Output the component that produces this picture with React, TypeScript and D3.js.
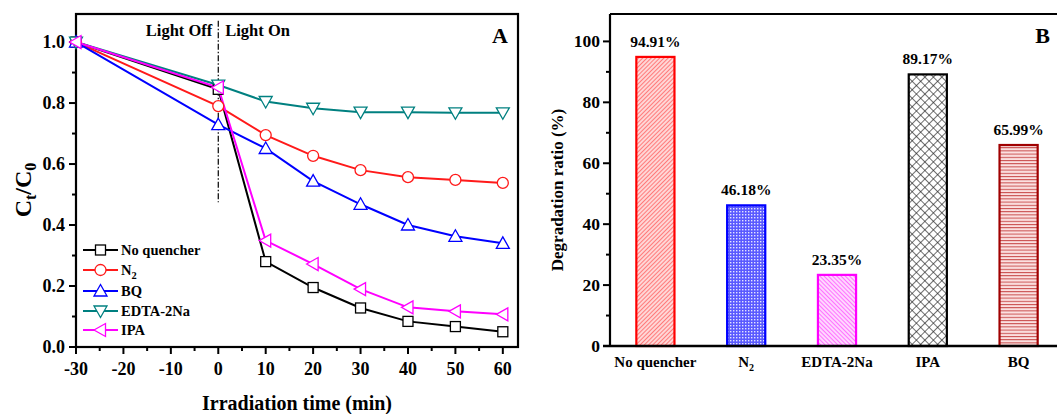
import React from "react";
import * as d3 from "d3";

const times = [-30, 0, 10, 20, 30, 40, 50, 60];
const seriesNames = ["No quencher", "N2", "BQ", "EDTA-2Na", "IPA"];
const noQuencher = [1.0, 0.845, 0.28, 0.195, 0.128, 0.084, 0.067, 0.05];
const n2 = [1.0, 0.79, 0.695, 0.627, 0.58, 0.557, 0.548, 0.538];
const bq = [1.0, 0.729, 0.651, 0.544, 0.468, 0.4, 0.363, 0.34];
const edta = [1.0, 0.859, 0.805, 0.783, 0.77, 0.77, 0.768, 0.768];
const ipa = [1.0, 0.851, 0.349, 0.272, 0.19, 0.13, 0.117, 0.107];
const xTicksA = [-30, -20, -10, 0, 10, 20, 30, 40, 50, 60];
const yTicksA = [0, 0.2, 0.4, 0.6, 0.8, 1.0];

const barCats = ["No quencher", "N2", "EDTA-2Na", "IPA", "BQ"];
const barValues = [94.91, 46.18, 23.35, 89.17, 65.99];
const yTicksB = [0, 20, 40, 60, 80, 100];

const FONT = "'Liberation Serif', 'DejaVu Serif', serif";
const colorsA = ["#000000", "#ff1a1a", "#0000ff", "#008080", "#ff00ff"];
const markersA = ["square", "circle", "up", "down", "left"];
const barStroke = ["#ff0000", "#0000ff", "#ff00ff", "#000000", "#a00000"];

function Marker({ type, x, y, color }: { type: string; x: number; y: number; color: string }) {
  const s = 5.5;
  const common = { fill: "white", stroke: color, strokeWidth: 1.3 };
  if (type === "square") return <rect x={x - s + 0.5} y={y - s + 0.5} width={2 * s - 1} height={2 * s - 1} {...common} />;
  if (type === "circle") return <circle cx={x} cy={y} r={s} {...common} />;
  let pts: number[][] = [];
  if (type === "up") pts = [[x, y - s - 1], [x + s + 1, y + s - 0.5], [x - s - 1, y + s - 0.5]];
  if (type === "down") pts = [[x, y + s + 1], [x + s + 1, y - s + 0.5], [x - s - 1, y - s + 0.5]];
  if (type === "left") pts = [[x - s - 1, y], [x + s - 0.5, y - s - 1], [x + s - 0.5, y + s + 1]];
  return <polygon points={pts.map((p) => p.join(",")).join(" ")} {...common} />;
}

function Label({ name, x, y, size }: { name: string; x: number; y: number; size: number }) {
  if (name === "N2") {
    return (
      <text x={x} y={y} fontSize={size} fontWeight="bold" fontFamily={FONT}>
        N<tspan fontSize={size * 0.72} dy={size * 0.3}>2</tspan>
      </text>
    );
  }
  return (
    <text x={x} y={y} fontSize={size} fontWeight="bold" fontFamily={FONT}>
      {name}
    </text>
  );
}

export default function App() {
  const W = 1057, H = 414;
  // Panel A
  const aL = 76, aR = 518, aT = 14, aB = 347;
  const xA = d3.scaleLinear().domain([-30, 63.2]).range([aL, aR]);
  const yA = d3.scaleLinear().domain([0, 1.092]).range([aB, aT]);
  const allSeries = [noQuencher, n2, bq, edta, ipa];
  const line = d3.line<number>().x((_, i) => xA(times[i])).y((d) => yA(d));
  const minorX = d3.range(-25, 61, 10);
  const minorY = d3.range(0.1, 1.01, 0.2);

  // Panel B
  const bL = 610, bT = 14, bB = 346;
  const xB = d3.scaleBand<string>().domain(barCats).range([610, 1064]).paddingInner(0.58).paddingOuter(0.29);
  const yB = d3.scaleLinear().domain([0, 109]).range([bB, bT]);
  const minorB = d3.range(10, 101, 20);
  const patIds = ["patRed", "patBlue", "patMag", "patBlack", "patBQ"];

  const legendY = [250, 270, 291, 311, 330];

  return (
    <svg width={W} height={H} style={{ position: "absolute", left: 0, top: 0, background: "white" }}>
      <defs>
        <pattern id="patRed" patternUnits="userSpaceOnUse" width="3" height="3" patternTransform="rotate(45)">
          <rect width="3" height="3" fill="#ffd6d6" />
          <line x1="0" y1="0" x2="0" y2="3" stroke="#ff4a4a" strokeWidth="1.3" />
        </pattern>
        <pattern id="patMag" patternUnits="userSpaceOnUse" width="3" height="3" patternTransform="rotate(-45)">
          <rect width="3" height="3" fill="#ffd6ff" />
          <line x1="0" y1="0" x2="0" y2="3" stroke="#ff3cff" strokeWidth="1.3" />
        </pattern>
        <pattern id="patBlue" patternUnits="userSpaceOnUse" width="3" height="3">
          <rect width="3" height="3" fill="#5a5aff" />
          <rect x="1" y="1" width="1.4" height="1.4" fill="#e4e4ff" />
        </pattern>
        <pattern id="patBlack" patternUnits="userSpaceOnUse" width="6" height="6" patternTransform="rotate(45)">
          <rect width="6" height="6" fill="white" />
          <line x1="0" y1="0" x2="0" y2="6" stroke="#222" strokeWidth="1.3" />
          <line x1="0" y1="0" x2="6" y2="0" stroke="#222" strokeWidth="1.3" />
        </pattern>
        <pattern id="patBQ" patternUnits="userSpaceOnUse" width="4" height="3.2">
          <rect width="4" height="3.2" fill="#fbe0e0" />
          <line x1="0" y1="0.5" x2="4" y2="0.5" stroke="#c84a4a" strokeWidth="1" />
        </pattern>
      </defs>

      {/* ===== Panel A ===== */}
      <rect x={aL} y={aT} width={aR - aL} height={aB - aT} fill="none" stroke="#000" strokeWidth={2.2} />
      {xTicksA.map((t) => (
        <g key={"xt" + t}>
          <line x1={xA(t)} x2={xA(t)} y1={aB} y2={aB + 7} stroke="#000" strokeWidth={2} />
          <text x={xA(t)} y={375} textAnchor="middle" fontSize={18} fontWeight="bold" fontFamily={FONT}>
            {t}
          </text>
        </g>
      ))}
      {minorX.map((t) => (
        <line key={"xm" + t} x1={xA(t)} x2={xA(t)} y1={aB} y2={aB + 4} stroke="#000" strokeWidth={2} />
      ))}
      {yTicksA.map((t) => (
        <g key={"yt" + t}>
          <line x1={aL - 7} x2={aL} y1={yA(t)} y2={yA(t)} stroke="#000" strokeWidth={2} />
          <text x={aL - 11} y={yA(t) + 6} textAnchor="end" fontSize={18} fontWeight="bold" fontFamily={FONT}>
            {t.toFixed(1)}
          </text>
        </g>
      ))}
      {minorY.map((t) => (
        <line key={"ym" + t} x1={aL - 4} x2={aL} y1={yA(t)} y2={yA(t)} stroke="#000" strokeWidth={2} />
      ))}
      <line x1={xA(0)} x2={xA(0)} y1={yA(1.07)} y2={yA(0.475)} stroke="#000" strokeWidth={1.2} strokeDasharray="6 2 1.5 2" />
      <text x={xA(0) - 6} y={36} textAnchor="end" fontSize={16.5} fontWeight="bold" fontFamily={FONT}>Light Off</text>
      <text x={xA(0) + 7} y={36} fontSize={16.5} fontWeight="bold" fontFamily={FONT}>Light On</text>
      <text x={508} y={43} textAnchor="end" fontSize={22} fontWeight="bold" fontFamily={FONT}>A</text>

      {allSeries.map((s, si) => (
        <path key={"l" + si} d={line(s) || ""} fill="none" stroke={colorsA[si]} strokeWidth={2} />
      ))}
      {allSeries.map((s, si) => (
        <g key={"m" + si}>
          {s.map((v, i) => (
            <Marker key={i} type={markersA[si]} x={xA(times[i])} y={yA(v)} color={colorsA[si]} />
          ))}
        </g>
      ))}

      {seriesNames.map((n, i) => (
        <g key={"lg" + n}>
          <line x1={83} x2={118} y1={legendY[i]} y2={legendY[i]} stroke={colorsA[i]} strokeWidth={2} />
          <Marker type={markersA[i]} x={100.5} y={legendY[i]} color={colorsA[i]} />
          <Label name={n} x={121} y={legendY[i] + 5} size={14.5} />
        </g>
      ))}

      <text transform={`translate(31,190) rotate(-90)`} textAnchor="middle" fontSize={24} fontWeight="bold" fontFamily={FONT}>
        C<tspan fontSize={16} dy={5}>t</tspan>
        <tspan dy={-5}>/C</tspan>
        <tspan fontSize={16} dy={5}>0</tspan>
      </text>
      <text x={297} y={410} textAnchor="middle" fontSize={20} fontWeight="bold" fontFamily={FONT}>
        Irradiation time (min)
      </text>

      {/* ===== Panel B ===== */}
      {barCats.map((c, i) => (
        <rect
          key={"bar" + c}
          x={xB(c)}
          y={yB(barValues[i])}
          width={xB.bandwidth()}
          height={yB(0) - yB(barValues[i])}
          fill={`url(#${patIds[i]})`}
          stroke={barStroke[i]}
          strokeWidth={2.2}
        />
      ))}
      {barCats.map((c, i) => (
        <text
          key={"bl" + c}
          x={(xB(c) || 0) + xB.bandwidth() / 2}
          y={yB(barValues[i]) - 10}
          textAnchor="middle"
          fontSize={15.5}
          fontWeight="bold"
          fontFamily={FONT}
        >
          {barValues[i].toFixed(2)}%
        </text>
      ))}
      <line x1={bL} x2={W} y1={bT} y2={bT} stroke="#000" strokeWidth={2.2} />
      <line x1={bL} x2={bL} y1={bT} y2={bB} stroke="#000" strokeWidth={2.2} />
      <line x1={bL - 7} x2={W} y1={bB} y2={bB} stroke="#000" strokeWidth={2.5} />
      {yTicksB.map((t) => (
        <g key={"ybt" + t}>
          <line x1={bL - 7} x2={bL} y1={yB(t)} y2={yB(t)} stroke="#000" strokeWidth={2} />
          <text x={bL - 10} y={yB(t) + 6} textAnchor="end" fontSize={17.5} fontWeight="bold" fontFamily={FONT}>
            {t}
          </text>
        </g>
      ))}
      {minorB.map((t) => (
        <line key={"ybm" + t} x1={bL - 4} x2={bL} y1={yB(t)} y2={yB(t)} stroke="#000" strokeWidth={2} />
      ))}
      {barCats.map((c) => {
        const cx = (xB(c) || 0) + xB.bandwidth() / 2;
        if (c === "N2") {
          return (
            <text key={"cl" + c} x={cx} y={367} textAnchor="middle" fontSize={15} fontWeight="bold" fontFamily={FONT}>
              N<tspan fontSize={10} dy={4}>2</tspan>
            </text>
          );
        }
        return (
          <text key={"cl" + c} x={cx} y={367} textAnchor="middle" fontSize={15} fontWeight="bold" fontFamily={FONT}>
            {c}
          </text>
        );
      })}
      <text x={1050} y={43} textAnchor="end" fontSize={22} fontWeight="bold" fontFamily={FONT}>B</text>
      <text transform={`translate(563,190) rotate(-90)`} textAnchor="middle" fontSize={17} fontWeight="bold" fontFamily={FONT}>
        Degradation ratio (%)
      </text>
    </svg>
  );
}
